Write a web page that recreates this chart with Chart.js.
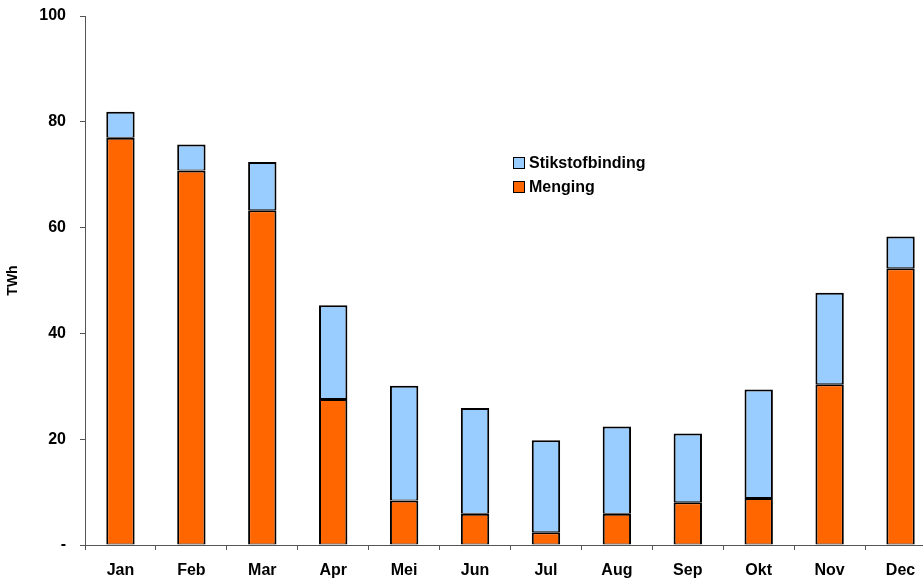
<!DOCTYPE html>
<html>
<head>
<meta charset="utf-8">
<script src="https://cdn.jsdelivr.net/npm/chart.js@4"></script>
<style>
  html, body { margin: 0; padding: 0; background: #fff; overflow: hidden; }
  #wrap { position: relative; width: 936px; height: 581px; }
  #legend { position: absolute; left: 513px; top: 151px; font: bold 16px "Liberation Sans", Arial, sans-serif; color: #000; }
  #legend div { display: flex; align-items: center; height: 24px; }
  #legend span.box { display: inline-block; width: 10px; height: 10px; border: 1px solid #000; margin-right: 4px; }
</style>
</head>
<body>
<div id="wrap">
  <canvas id="c" width="936" height="581"></canvas>
  <div id="legend"></div>
</div>
<script>
// Monthly energy (TWh) split into two series, stacked
const months = ['Jan', 'Feb', 'Mar', 'Apr', 'Mei', 'Jun', 'Jul', 'Aug', 'Sep', 'Okt', 'Nov', 'Dec'];
const menging = [77.0, 70.8, 63.3, 27.6, 8.4, 5.9, 2.4, 5.9, 8.1, 8.9, 30.4, 52.3];
const stikstofbinding = [4.9, 4.9, 9.1, 17.7, 21.7, 20.0, 17.4, 16.5, 13.0, 20.5, 17.3, 6.0];
const yTicks = [0, 20, 40, 60, 80, 100];
const seriesNames = ['Stikstofbinding', 'Menging'];
const colors = { Stikstofbinding: '#99CCFF', Menging: '#FF6600' };

const FONT = '"Liberation Sans", Arial, sans-serif';

const legendEl = document.getElementById('legend');
seriesNames.forEach(name => {
  const row = document.createElement('div');
  const box = document.createElement('span');
  box.className = 'box';
  box.style.background = colors[name];
  row.appendChild(box);
  row.appendChild(document.createTextNode(name));
  legendEl.appendChild(row);
});

new Chart(document.getElementById('c'), {
  type: 'bar',
  data: {
    labels: months,
    datasets: [
      { label: 'Menging', data: menging, backgroundColor: colors.Menging,
        borderColor: '#000', borderWidth: { top: 2, bottom: 1, left: 2, right: 2 }, borderSkipped: false },
      { label: 'Stikstofbinding', data: stikstofbinding, backgroundColor: colors.Stikstofbinding,
        borderColor: '#000', borderWidth: { top: 2, bottom: 1, left: 2, right: 2 }, borderSkipped: false }
    ]
  },
  options: {
    responsive: false,
    animation: false,
    devicePixelRatio: 1,
    layout: { padding: { top: 16, left: 0, right: 0, bottom: 0 } },
    plugins: { legend: { display: false }, tooltip: { enabled: false } },
    datasets: { bar: { categoryPercentage: 1, barPercentage: 0.4, inflateAmount: 0 } },
    scales: {
      x: {
        stacked: true,
        grid: { display: true, drawOnChartArea: false, drawTicks: true, tickLength: 5, color: '#555', offset: true },
        border: { display: true, color: '#555', width: 1 },
        ticks: { color: '#000', font: { family: FONT, size: 16, weight: 'bold' }, padding: 11, maxRotation: 0 },
        afterFit: s => { s.height = 36; s.paddingLeft = 0; s.paddingRight = 0; }
      },
      y: {
        stacked: true,
        min: 0, max: 100,
        afterBuildTicks: s => { s.ticks = yTicks.map(v => ({ value: v })); },
        grid: { display: true, drawOnChartArea: false, drawTicks: true, tickLength: 5, color: '#555' },
        border: { display: true, color: '#555', width: 1 },
        ticks: {
          color: '#000', font: { family: FONT, size: 16, weight: 'bold' }, padding: 14,
          callback: v => v === 0 ? '-' : String(v)
        },
        title: { display: true, text: 'TWh', color: '#000', font: { family: FONT, size: 14, weight: 'bold' }, padding: { top: 5, bottom: 0 } },
        afterFit: s => { s.width = 85; s.paddingTop = 0; s.paddingBottom = 0; }
      }
    }
  }
});
</script>
</body>
</html>
